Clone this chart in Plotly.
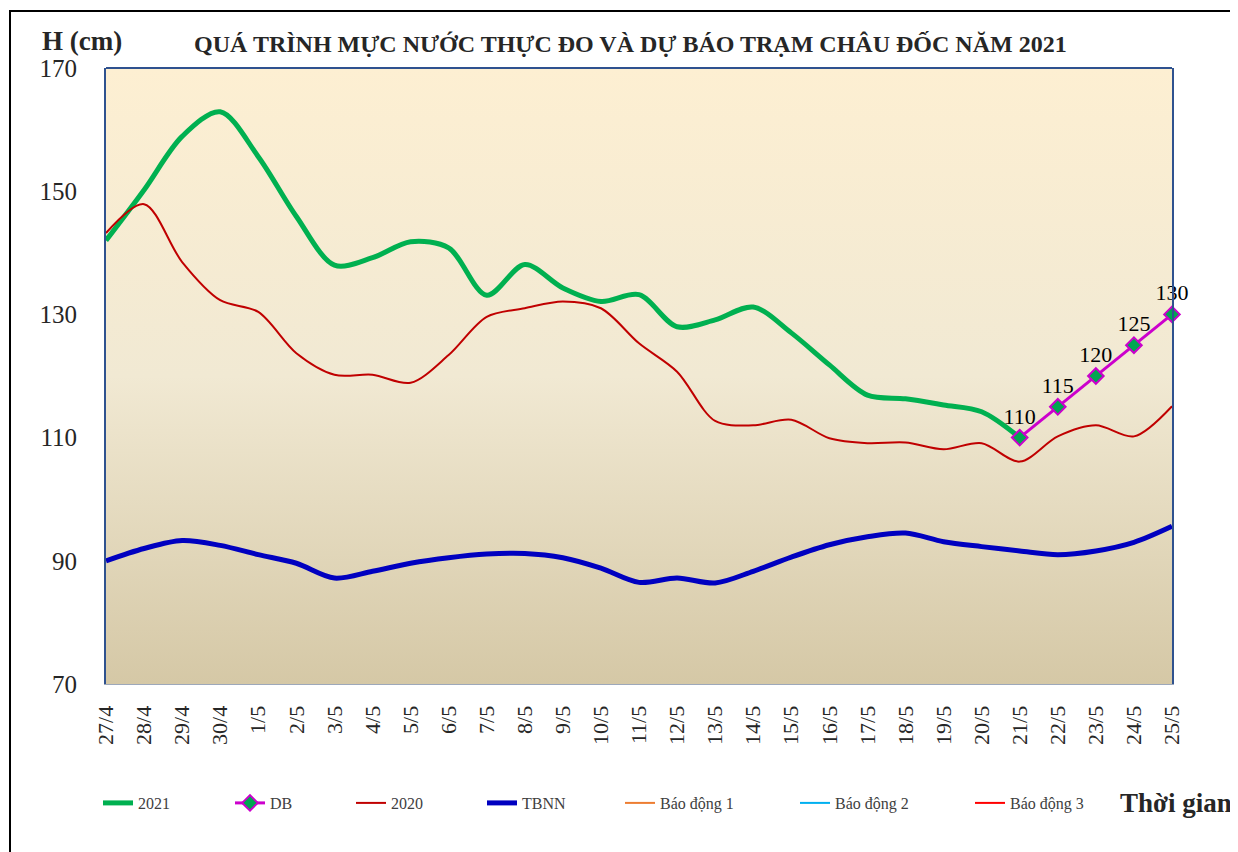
import plotly.graph_objects as go

# ---------------- data ----------------
dates = ["27/4", "28/4", "29/4", "30/4", "1/5", "2/5", "3/5", "4/5", "5/5", "6/5",
         "7/5", "8/5", "9/5", "10/5", "11/5", "12/5", "13/5", "14/5", "15/5", "16/5",
         "17/5", "18/5", "19/5", "20/5", "21/5", "22/5", "23/5", "24/5", "25/5"]

h2021 = [142, 150.2, 158.9, 162.9, 155.6, 145.9, 138.0, 139.2, 141.8, 140.8,
         133.1, 138.1, 134.3, 132.1, 133.2, 128.0, 129.1, 131.2, 127.0, 121.8,
         116.9, 116.3, 115.3, 114.2, 110.0]

db_dates = ["21/5", "22/5", "23/5", "24/5", "25/5"]
db_values = [110, 115, 120, 125, 130]

h2020 = [143.2, 147.9, 138.5, 132.3, 130.4, 123.7, 120.2, 120.2, 118.9, 123.4,
         129.6, 131.0, 132.1, 131.0, 125.3, 120.7, 112.7, 112.0, 112.9, 109.9,
         109.1, 109.2, 108.1, 109.1, 106.1, 110.2, 112.0, 110.2, 115.1]

tbnn = [90.0, 92.0, 93.3, 92.5, 91.0, 89.6, 87.2, 88.3, 89.6, 90.5,
        91.1, 91.2, 90.5, 88.8, 86.5, 87.2, 86.4, 88.3, 90.6, 92.6,
        93.9, 94.5, 93.1, 92.3, 91.6, 91.0, 91.6, 93.0, 95.6]

# alarm levels at Chau Doc (cm) - outside the displayed range
alarm_names = ["Báo động 1", "Báo động 2", "Báo động 3"]
alarm_levels = [350, 400, 450]

y_min, y_max = 70, 170
y_ticks = [70, 90, 110, 130, 150, 170]

title_text = "QUÁ TRÌNH MỰC NƯỚC THỰC ĐO VÀ DỰ BÁO TRẠM CHÂU ĐỐC NĂM 2021"

# ---------------- styles ----------------
FONT = "Liberation Serif"
C2021 = "#00B050"
CDB = "#CC00CC"
C2020 = "#C00000"
CTBNN = "#0000C0"
alarm_colors = ["#ED7D31", "#00B0F0", "#FF0000"]

OFF = 8                     # page body margin
W, H = 1238 - OFF, 852 - OFF
PL, PR, PT, PB = 106, 1172, 68, 684   # plot area in page pixels
L, T = PL - OFF, PT - OFF
R, B = 1238 - PR, 852 - PB
PW, PH = PR - PL, PB - PT


def px_x(px):
    return (px - PL) / PW


def px_y(py):
    return (PB - py) / PH


fig = go.Figure()

# gradient background of the plot area
fig.add_trace(go.Scatter(
    x=[dates[0], dates[-1], dates[-1], dates[0], dates[0]],
    y=[y_min, y_min, y_max, y_max, y_min],
    mode="none", fill="toself",
    fillgradient=dict(type="vertical", start=y_min, stop=y_max,
                      colorscale=[[0, "#D5C8A6"], [0.5, "#F1E9D3"], [1, "#FDEFD2"]]),
    hoverinfo="skip", showlegend=False,
))

legend_names = ["legend", "legend2", "legend3", "legend4", "legend5", "legend6", "legend7"]

fig.add_trace(go.Scatter(
    x=dates[:len(h2021)], y=h2021, name="2021", mode="lines",
    line=dict(color=C2021, width=5, shape="spline", smoothing=0.9),
    legend="legend",
))
fig.add_trace(go.Scatter(
    x=db_dates, y=db_values, name="DB", mode="lines+markers+text",
    line=dict(color=CDB, width=3),
    marker=dict(symbol="diamond", size=12, color="#00A651",
                line=dict(color=CDB, width=2)),
    text=[str(v) for v in db_values], textposition="top center",
    textfont=dict(family=FONT, size=22, color="#000000"),
    cliponaxis=False,
    legend="legend2",
))
fig.add_trace(go.Scatter(
    x=dates, y=h2020, name="2020", mode="lines",
    line=dict(color=C2020, width=2, shape="spline", smoothing=0.9),
    legend="legend3",
))
fig.add_trace(go.Scatter(
    x=dates, y=tbnn, name="TBNN", mode="lines",
    line=dict(color=CTBNN, width=5, shape="spline", smoothing=0.9),
    legend="legend4",
))
for i, (nm, lv) in enumerate(zip(alarm_names, alarm_levels)):
    fig.add_trace(go.Scatter(
        x=[dates[0], dates[-1]], y=[lv, lv], name=nm, mode="lines",
        line=dict(color=alarm_colors[i], width=2),
        legend=legend_names[4 + i],
    ))

# legend positions (text start pixel positions in reference)
legend_text_px = [138, 270, 391, 522, 660, 835, 1010]
legend_layout = {}
for nm, tx in zip(legend_names, legend_text_px):
    legend_layout[nm] = dict(
        x=px_x(tx - 40), xanchor="left", y=px_y(803), yanchor="middle",
        orientation="h", bgcolor="rgba(0,0,0,0)", borderwidth=0,
        font=dict(family=FONT, size=16, color="#404040"),
    )

fig.update_layout(
    width=W, height=H,
    margin=dict(l=L, r=R, t=T, b=B),
    paper_bgcolor="white", plot_bgcolor="rgba(0,0,0,0)",
    font=dict(family=FONT, color="#262626"),
    **legend_layout,
    xaxis=dict(
        type="category", categoryorder="array", categoryarray=dates,
        range=[0, len(dates) - 1], tickmode="array", tickvals=dates, ticktext=dates,
        tickangle=-90, tickfont=dict(family=FONT, size=22, color="#262626"),
        showgrid=False, zeroline=False, showline=True, linecolor="#9DA8BA", linewidth=1,
        ticks="", ticklabelstandoff=12,
    ),
    yaxis=dict(
        range=[y_min, y_max], tickmode="array", tickvals=y_ticks,
        tickfont=dict(family=FONT, size=25, color="#262626"),
        showgrid=False, zeroline=False, showline=True, linecolor="#2F528F", linewidth=2,
        mirror=True, ticks="", ticklabelstandoff=22,
    ),
    annotations=[
        dict(text="<b>H (cm)</b>", x=px_x(40), y=px_y(41), xref="paper", yref="paper",
             xanchor="left", yanchor="middle", showarrow=False,
             font=dict(family=FONT, size=27, color="#262626")),
        dict(text="<b>" + title_text + "</b>", x=px_x(630), y=px_y(44), xref="paper",
             yref="paper", xanchor="center", yanchor="middle", showarrow=False,
             font=dict(family=FONT, size=24, color="#262626")),
        dict(text="<b>Thời gian</b>", x=px_x(1118), y=px_y(803), xref="paper", yref="paper",
             xanchor="left", yanchor="middle", showarrow=False,
             font=dict(family=FONT, size=27, color="#262626")),
    ],
    shapes=[
        dict(type="line", xref="paper", yref="paper", x0=0, x1=1, y0=1, y1=1,
             line=dict(color="#2F528F", width=2)),
        dict(type="rect", xref="paper", yref="paper",
             x0=px_x(10), x1=px_x(1260), y0=px_y(880), y1=px_y(11),
             line=dict(color="black", width=2), fillcolor="rgba(0,0,0,0)", layer="above"),
    ],
)

fig.write_html("out.html")
